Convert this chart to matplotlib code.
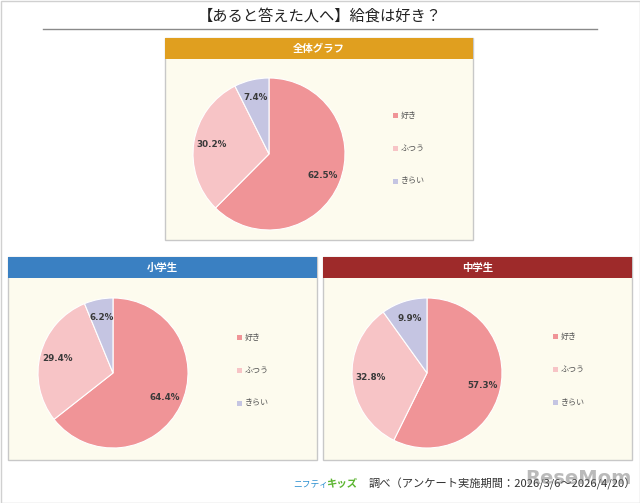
import matplotlib.pyplot as plt
from matplotlib.patches import Rectangle

plt.rcParams['font.family'] = ['Noto Sans CJK JP', 'DejaVu Sans']

title = "【あると答えた人へ】給食は好き？"
categories = ["好き", "ふつう", "きらい"]
panel_titles = ["全体グラフ", "小学生", "中学生"]
all_values = [62.5, 30.2, 7.4]
elem_values = [64.4, 29.4, 6.2]
junior_values = [57.3, 32.8, 9.9]
source = "調べ（アンケート実施期間：2026/3/6～2026/4/20）"

slice_colors = ["#f09497", "#f7c4c6", "#c5c5e2"]
header_colors = ["#e09f1f", "#3a80c2", "#9e2a2a"]
W, H = 640, 503

fig = plt.figure(figsize=(6.4, 5.03), dpi=100)
bg = fig.add_axes([0, 0, 1, 1])
bg.set_xlim(0, W)
bg.set_ylim(H, 0)
bg.axis("off")

# outer frame + title
bg.add_patch(Rectangle((0.5, 0.5), W - 1, H - 1, fill=False, ec="#d0d0d0", lw=1))
bg.text(320, 16, title, ha="center", va="center", fontsize=11, color="#222222")
bg.plot([43, 597], [29, 29], color="#8a8a8a", lw=1)


def draw_panel(x0, y0, x1, y1, name, hcolor, values, cx, cy, r, legx, legy):
    bg.add_patch(Rectangle((x0, y0), x1 - x0, y1 - y0, fc="#fdfbee", ec="#c8c8c8", lw=1))
    bg.add_patch(Rectangle((x0, y0), x1 - x0, 21, fc=hcolor, ec="none"))
    bg.text((x0 + x1) / 2, y0 + 10.5, name, ha="center", va="center",
            fontsize=7.5, fontweight="bold", color="white")

    ax = fig.add_axes([(cx - r) / W, 1 - (cy + r) / H, 2 * r / W, 2 * r / H])
    wedges, texts, autotexts = ax.pie(
        values, colors=slice_colors, startangle=90, counterclock=False,
        autopct="%.1f%%", pctdistance=0.76,
        wedgeprops=dict(edgecolor="white", linewidth=0.8),
        textprops=dict(fontsize=6.3, fontweight="bold", color="#3a3a3a",
                       family="DejaVu Sans"))
    ax.set_xlim(-1, 1)
    ax.set_ylim(-1, 1)
    # show the survey's own rounded numbers
    for t, v in zip(autotexts, values):
        t.set_text(f"{v:.1f}%")

    for i, (cat, col) in enumerate(zip(categories, slice_colors)):
        y = legy + i * 33
        bg.add_patch(Rectangle((legx, y - 2.5), 5, 5, fc=col, ec="none"))
        bg.text(legx + 8, y, cat, ha="left", va="center", fontsize=5.8, color="#555555")


draw_panel(165, 38, 473, 240, panel_titles[0], header_colors[0], all_values,
           269, 154, 76, 393, 115)
draw_panel(8, 257, 317, 460, panel_titles[1], header_colors[1], elem_values,
           113, 373, 75, 237, 337)
draw_panel(323, 257, 632, 460, panel_titles[2], header_colors[2], junior_values,
           427, 373, 75, 553, 336)

# footer
bg.text(293, 484, "ニフティ", ha="left", va="center", fontsize=6.3, color="#2a8fd0")
bg.text(326, 484, "キッズ", ha="left", va="center", fontsize=7.5,
        fontweight="bold", color="#5cb531")
bg.text(369, 484, source, ha="left", va="center", fontsize=8.1, color="#333333")
bg.text(578, 479, "ReseMom", ha="center", va="center", fontsize=14,
        fontweight="bold", color="#777777", alpha=0.5, family="DejaVu Sans")

fig.savefig("out.png", dpi=100)
